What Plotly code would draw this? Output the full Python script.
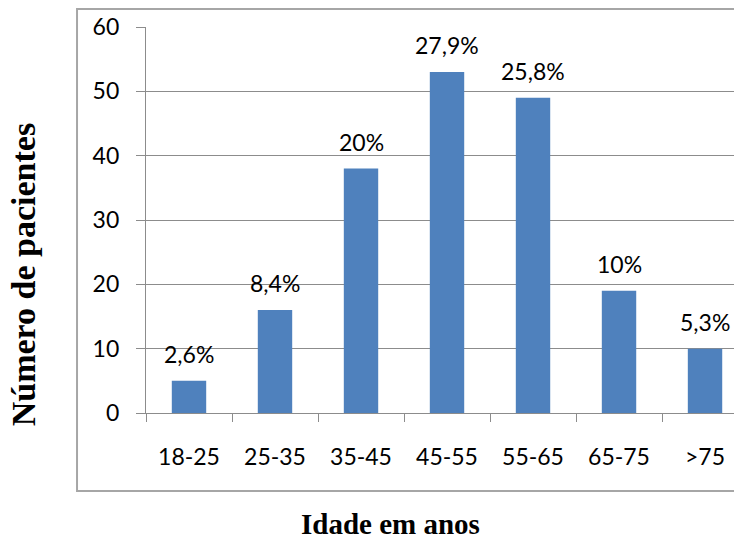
import plotly.graph_objects as go

# Age groups and number of patients per group
age_groups = ["18-25", "25-35", "35-45", "45-55", "55-65", "65-75", ">75"]
patients = [5, 16, 38, 53, 49, 19, 10]
pct_labels = ["2,6%", "8,4%", "20%", "27,9%", "25,8%", "10%", "5,3%"]

bar_color = "#4F81BD"
grid_color = "#8C8C8C"
label_font = dict(family="Lato", size=23, color="#000000")

fig = go.Figure()
fig.add_trace(go.Bar(
    x=age_groups,
    y=patients,
    width=0.4,
    marker=dict(color=bar_color, line=dict(width=0)),
    hoverinfo="skip",
))

# Percentage labels above each bar
for g, v, t in zip(age_groups, patients, pct_labels):
    fig.add_annotation(x=g, y=v, text=t, showarrow=False, xref="x", yref="y",
                       xanchor="center", yanchor="middle", yshift=27, font=label_font)

# Axis titles
fig.add_annotation(text="<b>Número de pacientes</b>", xref="paper", yref="paper",
                   x=-0.209, y=0.357, xanchor="center", yanchor="middle",
                   textangle=-90, showarrow=False,
                   font=dict(family="Liberation Serif", size=34, color="#000000"))
fig.add_annotation(text="<b>Idade em anos</b>", xref="paper", yref="paper",
                   x=0.415, y=-0.2876, xanchor="center", yanchor="middle",
                   showarrow=False, borderpad=0,
                   font=dict(family="Liberation Serif", size=29, color="#000000"))

# Outer chart frame
fig.add_shape(type="rect", xref="paper", yref="paper",
              x0=-0.1173, x1=1.05, y0=-0.2021, y1=1.0466,
              line=dict(color="#A6A6A6", width=2), layer="below")

fig.update_layout(
    width=734, height=542,
    margin=dict(l=146, r=0, t=27, b=129),
    paper_bgcolor="white", plot_bgcolor="white",
    showlegend=False,
    bargap=0.6,
)
fig.update_xaxes(
    type="category", range=[-0.5, 6.337],
    showline=True, linecolor=grid_color, linewidth=1.3,
    ticks="outside", tickson="boundaries", ticklen=8, tickcolor=grid_color, tickwidth=1.3,
    tickfont=label_font, ticklabelstandoff=23,
    showgrid=False, zeroline=False,
)
fig.update_yaxes(
    range=[0, 60], dtick=10, tick0=0,
    showline=True, linecolor=grid_color, linewidth=1.3,
    ticks="outside", ticklen=9, tickcolor=grid_color, tickwidth=1.3,
    tickfont=label_font, ticklabelstandoff=12,
    showgrid=True, gridcolor=grid_color, gridwidth=1.3,
    zeroline=False,
)

fig.write_html("out.html")
